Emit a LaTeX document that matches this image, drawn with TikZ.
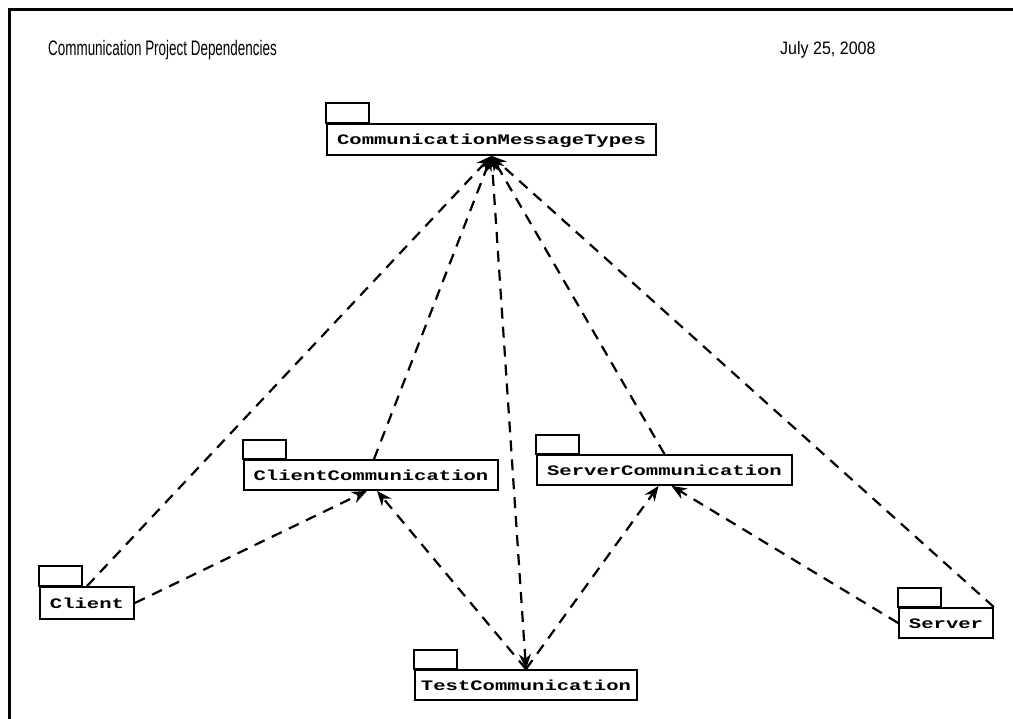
\documentclass[tikz,border=0pt]{standalone}
\usepackage{graphicx}
\usepackage{fontspec}
\setmainfont{Liberation Sans}
\newfontfamily\pkgfont{Liberation Mono}
\usetikzlibrary{arrows.meta}
% package name: wide bold monospace
\newcommand\pkgtext[1]{\scalebox{1.42}[1]{\pkgfont\bfseries\fontsize{14.5}{16}\selectfont #1}}
\begin{document}
\begin{tikzpicture}[x=1pt,y=-1pt,
  pkg/.style={draw, line width=1.8pt, inner sep=0pt, text height=14pt, text depth=3pt,
              minimum height=30pt, fill=white},
  pkgtab/.style={draw, line width=1.8pt},
  dep/.style={line width=2.2pt, dash pattern=on 11pt off 8pt,
              -{Stealth[length=15pt,width=12pt]}},
  frame/.style={line width=3pt}]
\useasboundingbox (0,0) rectangle (1013,719);

% sheet frame
\draw[frame] (8,10) -- (1013,10);
\draw[frame] (9.5,8.5) -- (9.5,719);

% heading
\node[anchor=base west, inner sep=0pt] (title) at (48,56)
  {\scalebox{0.64}[1]{\fontsize{21}{24}\selectfont Communication Project Dependencies}};
\node[anchor=base west, inner sep=0pt] (date) at (780,55)
  {\scalebox{0.89}[1]{\fontsize{18}{20}\selectfont July 25, 2008}};

% packages
\node[pkg, minimum width=329pt, minimum height=31pt] (cmt) at (491.5,139.5) {\pkgtext{CommunicationMessageTypes}};
\node[pkg, minimum width=254pt] (cc) at (371,475) {\pkgtext{ClientCommunication}};
\node[pkg, minimum width=255pt] (sc) at (664.5,470) {\pkgtext{ServerCommunication}};
\node[pkg, minimum width=94pt, minimum height=32pt] (client) at (87,603) {\pkgtext{Client}};
\node[pkg, minimum width=94pt] (server) at (946,623) {\pkgtext{Server}};
\node[pkg, minimum width=222pt] (tc) at (526,685) {\pkgtext{TestCommunication}};

% package tabs
\foreach \n/\h in {cmt/20, cc/19, sc/19, client/20, server/19, tc/19}
  \draw[pkgtab] (\n.north west) rectangle ++(43,-\h);

% dependencies
\draw[dep] (client.north) -- (cmt.south);
\draw[dep] (client.east) -- ([xshift=-4pt]cc.south);
\draw[dep] ([xshift=3pt]cc.north) -- (cmt.south);
\draw[dep] (tc.north) -- ([xshift=6pt]cc.south);
\draw[dep, {Stealth[length=15pt,width=12pt]}-{Stealth[length=15pt,width=12pt]}] (tc.north) -- (cmt.south);
\draw[dep] (tc.north) -- ([xshift=-6pt]sc.south);
\draw[dep] (sc.north) -- (cmt.south);
\draw[dep] (server.west) -- ([xshift=7pt]sc.south);
\draw[dep] (server.north east) -- (cmt.south);
\end{tikzpicture}
\end{document}
